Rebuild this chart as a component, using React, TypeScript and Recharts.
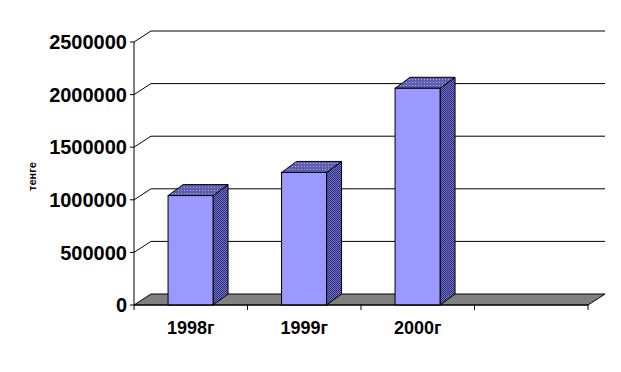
import { BarChart, Bar, XAxis, YAxis, CartesianGrid } from 'recharts'

const years = ['1998г', '1999г', '2000г', '']
const amounts = [1040000, 1260000, 2060000, null]
const yTicks = [0, 500000, 1000000, 1500000, 2000000, 2500000]

const data = years.map((year, i) => ({ year, amount: amounts[i] }))

const FONT = 'Arial, "Liberation Sans", sans-serif'
// depth of the back wall and of the columns
const WALL_DX = 17
const WALL_DY = 11
const BAR_DX = 15
const BAR_DY = 11
const X_TICK_MARGIN = 16

function Patterns() {
  return (
    <defs>
      <pattern id="topDots" width={3} height={3} patternUnits="userSpaceOnUse">
        <rect width={3} height={3} fill="#5e5eaa" />
        <rect x={1} y={1} width={1} height={1} fill="#a8a8ff" />
      </pattern>
      <pattern id="sideCheck" width={2} height={2} patternUnits="userSpaceOnUse">
        <rect width={2} height={2} fill="#7474c8" />
        <rect width={1} height={1} fill="#2a2a78" />
        <rect x={1} y={1} width={1} height={1} fill="#2a2a78" />
      </pattern>
    </defs>
  )
}

function Column(props: any) {
  const { x, y, width, height } = props
  if (height == null || height <= 0) return null
  const top = `${x},${y} ${x + BAR_DX},${y - BAR_DY} ${x + width + BAR_DX},${y - BAR_DY} ${x + width},${y}`
  const side = `${x + width},${y} ${x + width + BAR_DX},${y - BAR_DY} ${x + width + BAR_DX},${y + height - BAR_DY} ${x + width},${y + height}`
  return (
    <g>
      <polygon points={side} fill="url(#sideCheck)" stroke="#000" strokeWidth={1} />
      <polygon points={top} fill="url(#topDots)" stroke="#000" strokeWidth={1} />
      <rect x={x} y={y} width={width} height={height} fill="#9999ff" stroke="#000" strokeWidth={1} />
    </g>
  )
}

function WallLine(props: any) {
  const { x1, x2, y1, index } = props
  const bx1 = x1 + WALL_DX
  const bx2 = x2 + WALL_DX
  const by = y1 - WALL_DY
  if (Math.abs(y1 - 305) < 1) {
    return (
      <polygon
        key={`floor-${index}`}
        points={`${x1},${y1} ${bx1},${by} ${bx2},${by} ${x2},${y1}`}
        fill="#808080"
        stroke="#000"
        strokeWidth={1}
      />
    )
  }
  return (
    <g key={`wall-${index}`}>
      <line x1={x1} y1={y1} x2={bx1} y2={by} stroke="#000" strokeWidth={1} />
      <line x1={bx1} y1={by} x2={bx2} y2={by} stroke="#000" strokeWidth={1} />
    </g>
  )
}

// category label plus the tick marks on the category boundaries
function YearTick(props: any) {
  const { x, y, payload } = props
  const half = payload?.offset ?? 56.75
  const axisY = y - X_TICK_MARGIN
  const last = payload?.index === years.length - 1
  return (
    <g>
      <line x1={x - half} y1={axisY} x2={x - half} y2={axisY + 5} stroke="#000" />
      {last && <line x1={x + half} y1={axisY} x2={x + half} y2={axisY + 5} stroke="#000" />}
      <text
        x={x}
        y={y}
        dy="0.71em"
        textAnchor="middle"
        fill="#000"
        fontSize={18}
        fontWeight={700}
        fontFamily={FONT}
      >
        {payload.value}
      </text>
    </g>
  )
}

function UnitLabel(props: any) {
  const { viewBox } = props
  const cx = viewBox.x + 24
  const cy = viewBox.y + viewBox.height / 2 + 3
  return (
    <text
      x={cx}
      y={cy}
      transform={`rotate(-90 ${cx} ${cy})`}
      textAnchor="middle"
      dominantBaseline="central"
      fontFamily={FONT}
      fontWeight={700}
      fontSize={11}
      fill="#000"
    >
      тенге
    </text>
  )
}

export default function App() {
  return (
    <div style={{ width: 621, height: 372, background: '#fff' }}>
      <style>{'body{margin:0}'}</style>
      <BarChart
        width={621}
        height={372}
        data={data}
        margin={{ top: 42, right: 33, bottom: 66, left: 8 }}
        barCategoryGap="30%"
      >
        <Patterns />
        <CartesianGrid vertical={false} horizontal={(p: any) => <WallLine {...p} />} />
        <XAxis
          dataKey="year"
          height={1}
          interval={0}
          axisLine={{ stroke: '#000' }}
          tickLine={false}
          tickSize={0}
          tickMargin={X_TICK_MARGIN}
          tick={<YearTick />}
        />
        <YAxis
          width={126}
          domain={[0, 2500000]}
          ticks={yTicks}
          interval={0}
          tickSize={4}
          tickMargin={3}
          axisLine={{ stroke: '#000' }}
          tickLine={{ stroke: '#000' }}
          tick={{ fill: '#000', fontSize: 20, fontWeight: 700, fontFamily: FONT }}
          label={<UnitLabel />}
        />
        <Bar dataKey="amount" shape={<Column />} isAnimationActive={false} />
      </BarChart>
    </div>
  )
}
